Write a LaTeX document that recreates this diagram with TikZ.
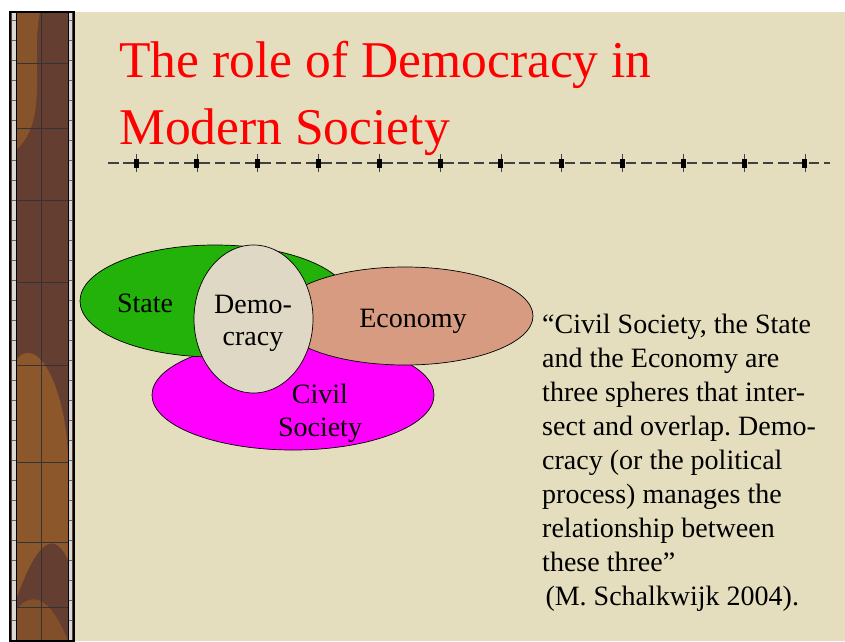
\documentclass[tikz,border=0pt]{standalone}
\usepackage{fontspec}
\setmainfont{Liberation Serif}
\usetikzlibrary{shapes.geometric}
\frenchspacing

\definecolor{parchment}{RGB}{228,222,191}
\definecolor{stripbrown}{RGB}{100,62,48}
\definecolor{stripochre}{RGB}{158,98,40}
\definecolor{stategreen}{RGB}{34,178,10}
\definecolor{econsalmon}{RGB}{214,155,128}
\definecolor{civilmagenta}{RGB}{255,0,255}
\definecolor{demobeige}{RGB}{223,216,196}

\begin{document}
\begin{tikzpicture}[x=0.03cm,y=-0.03cm,
  sphere/.style={ellipse,draw=black,line width=0.6pt,inner sep=0pt},
  lbl/.style={anchor=base,inner sep=0pt,font=\fontsize{23.9}{29}\selectfont},
  quoteline/.style={anchor=base west,inner sep=0pt,font=\fontsize{23.9}{29}\selectfont},
  titleline/.style={anchor=base west,inner sep=0pt,text=red,font=\fontsize{44}{56}\selectfont}]
\useasboundingbox (0,0) rectangle (845,641);
\fill[white] (0,0) rectangle (845,641);
\fill[parchment] (74,12) rectangle (845,641);

% left strip
\fill[stripbrown] (10,12) rectangle (74,641);
\fill[stripochre,opacity=0.7] (16,360) .. controls (40,330) and (70,400) .. (68,470)
  -- (68,560) .. controls (50,520) and (30,560) .. (16,600) -- cycle;
\fill[stripochre,opacity=0.6] (16,12) -- (40,12) .. controls (30,60) and (50,120) .. (16,150) -- cycle;
\fill[stripochre,opacity=0.5] (16,610) .. controls (40,580) and (60,620) .. (68,641) -- (16,641) -- cycle;
\foreach \yy in {63,128,200,282,365,462,542,607}
  \draw[black!80,line width=0.8pt] (14,\yy) -- (70,\yy);
\draw[black!80,line width=0.8pt] (41,12) -- (41,641);
\fill[black!15] (12,12) rectangle (16,641);
\fill[black!15] (68,12) rectangle (72,641);
\foreach \yy in {20,40,...,640}{
  \draw[black!60,line width=0.3pt] (12,\yy) -- (16,\yy);
  \draw[black!60,line width=0.3pt] (68,\yy) -- (72,\yy);
}
\draw[black,line width=1pt] (10,12) rectangle (74,641);
\draw[black,line width=0.6pt] (16,12) -- (16,641) (68,12) -- (68,641);

% title
\node[titleline] (title1) at (119,77) {The role of Democracy in};
\node[titleline] (title2) at (119,144) {Modern Society};

% rule under the title
\draw[black!75,line width=1.3pt,dash pattern=on 9pt off 4pt] (108,163) -- (830,163);
\foreach \i in {0,...,11}{
  \draw[black!75,line width=0.4pt] ({136+60.8*\i},154) -- ({136+60.8*\i},172);
  \fill[black] ({133.5+60.8*\i},158.5) rectangle ({138.5+60.8*\i},167.5);
}

% spheres
\node[sphere,fill=civilmagenta,minimum width=8.46cm,minimum height=3.3cm] (civil) at (293,395) {};
\node[sphere,fill=stategreen,minimum width=8.1cm,minimum height=3.36cm] (state) at (215,301) {};
\node[sphere,fill=econsalmon,minimum width=7.68cm,minimum height=2.94cm] (economy) at (405,316) {};
\node[sphere,fill=demobeige,minimum width=3.57cm,minimum height=4.44cm] (democracy) at (253.5,319) {};

\node[lbl] (statelbl) at (145,312) {State};
\node[lbl] (econlbl) at (413,327) {Economy};
\node[lbl] (demolbl1) at (253,313) {Demo-};
\node[lbl] (demolbl2) at (253,345) {cracy};
\node[lbl] (civillbl1) at (320,403) {Civil};
\node[lbl] (civillbl2) at (320,436) {Society};

% quotation
\foreach \txt [count=\i] in {{“Civil Society, the State},{and the Economy are},
  {three spheres that inter-},{sect and overlap. Demo-},{cracy (or the political},
  {process) manages the},{relationship between},{these three”},{\hspace{7\pgflinewidth}(M. Schalkwijk 2004).}}
  \node[quoteline] (q\i) at (542,{333+34*(\i-1)}) {\txt};
\end{tikzpicture}
\end{document}
